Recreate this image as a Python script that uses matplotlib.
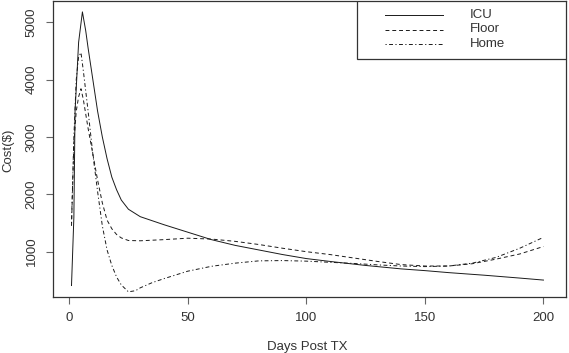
import matplotlib
matplotlib.use("Agg")
import matplotlib.pyplot as plt
from matplotlib.patches import Rectangle

plt.rcParams["font.family"] = ["Liberation Sans", "DejaVu Sans"]

# values
icu_days = [1, 2, 2.5, 4, 5.6, 7, 8, 10, 12, 14, 16, 18, 20, 22, 25, 30, 35, 40,
            50, 60, 70, 80, 90, 100, 110, 125, 140, 150, 160, 175, 190, 200]
icu_cost = [410, 1600, 3450, 4650, 5180, 4850, 4550, 4000, 3450, 3000, 2620, 2300,
            2080, 1900, 1740, 1610, 1540, 1470, 1340, 1210, 1110, 1030, 950, 880,
            830, 760, 700, 670, 635, 590, 540, 505]

floor_days = [1, 2, 3, 4, 5, 6, 8, 10, 12, 14, 16, 18, 20, 22, 25, 30, 40, 50,
              60, 70, 80, 90, 100, 110, 120, 130, 140, 150, 160, 170, 180, 190, 200]
floor_cost = [1450, 2900, 3450, 3700, 3840, 3650, 3150, 2700, 2250, 1850, 1550, 1400,
              1300, 1240, 1195, 1190, 1210, 1235, 1220, 1180, 1125, 1060, 1000, 950,
              890, 830, 775, 750, 750, 790, 870, 960, 1090]

home_days = [1, 2, 3, 4, 5, 6, 7, 8, 10, 12, 14, 16, 18, 20, 22, 25, 28, 30, 35, 40,
             50, 60, 70, 80, 90, 100, 110, 120, 130, 140, 150, 160, 170, 180, 190, 200]
home_cost = [1500, 3000, 4000, 4400, 4470, 4150, 3800, 3450, 2700, 2050, 1450, 1030,
             760, 560, 420, 300, 320, 370, 460, 530, 660, 745, 800, 840, 845, 835,
             815, 795, 770, 750, 740, 750, 800, 900, 1060, 1250]

x_ticks = [0, 50, 100, 150, 200]
y_ticks = [1000, 2000, 3000, 4000, 5000]
series_names = ["ICU", "Floor", "Home"]

fig = plt.figure(figsize=(5.69, 3.53), dpi=100)
W, H = 569, 353
left, right, top, bottom = 53, 566, 1, 297
ax = fig.add_axes([left / W, (H - bottom) / H, (right - left) / W, (bottom - top) / H])

styles = ["-", (0, (4, 3)), (0, (1.2, 2.5, 4, 2.5))]
lw = 0.7
line_col = "#1a1a1a"
ax.plot(icu_days, icu_cost, color=line_col, lw=lw, ls=styles[0])
ax.plot(floor_days, floor_cost, color=line_col, lw=lw, ls=styles[1])
ax.plot(home_days, home_cost, color=line_col, lw=lw, ls=styles[2])

ax.set_xlim(-6.8, 209.5)
ax.set_ylim(210, 5370)
ax.set_xticks(x_ticks)
ax.set_yticks(y_ticks)
ax.tick_params(direction="out", length=5, width=0.8, color="#666666",
               labelsize=9.5, labelcolor="#333333", pad=6)
for lab in ax.get_yticklabels():
    lab.set_rotation(90)
    lab.set_va("center")
for s in ax.spines.values():
    s.set_linewidth(0.9)
    s.set_color("#333333")

fig.text(8 / W, 1 - 150 / H, "Cost($)", rotation=90, ha="center", va="center",
         fontsize=9.5, color="#333333")
fig.text(307 / W, 1 - 347 / H, "Days Post TX", ha="center", va="center",
         fontsize=9.5, color="#333333")

# legend box drawn in axes coordinates
lx0, lx1 = (357 - left) / (right - left), 1.0
ly0 = (bottom - 59) / (bottom - top)
ax.add_patch(Rectangle((lx0, ly0), lx1 - lx0, 1 - ly0, transform=ax.transAxes,
                       facecolor="white", edgecolor="#333333", lw=0.9, zorder=5))
hx0 = (385 - left) / (right - left)
hx1 = (443 - left) / (right - left)
tx = (470 - left) / (right - left)
for i, name in enumerate(series_names):
    yy = (bottom - (15 + 14.5 * i)) / (bottom - top)
    ax.plot([hx0, hx1], [yy, yy], transform=ax.transAxes, color=line_col, lw=lw,
            ls=styles[i], zorder=6)
    ax.text(tx, yy, name, transform=ax.transAxes, va="center", ha="left",
            fontsize=9.5, color="#333333", zorder=6)

fig.savefig("out.png", dpi=100)
